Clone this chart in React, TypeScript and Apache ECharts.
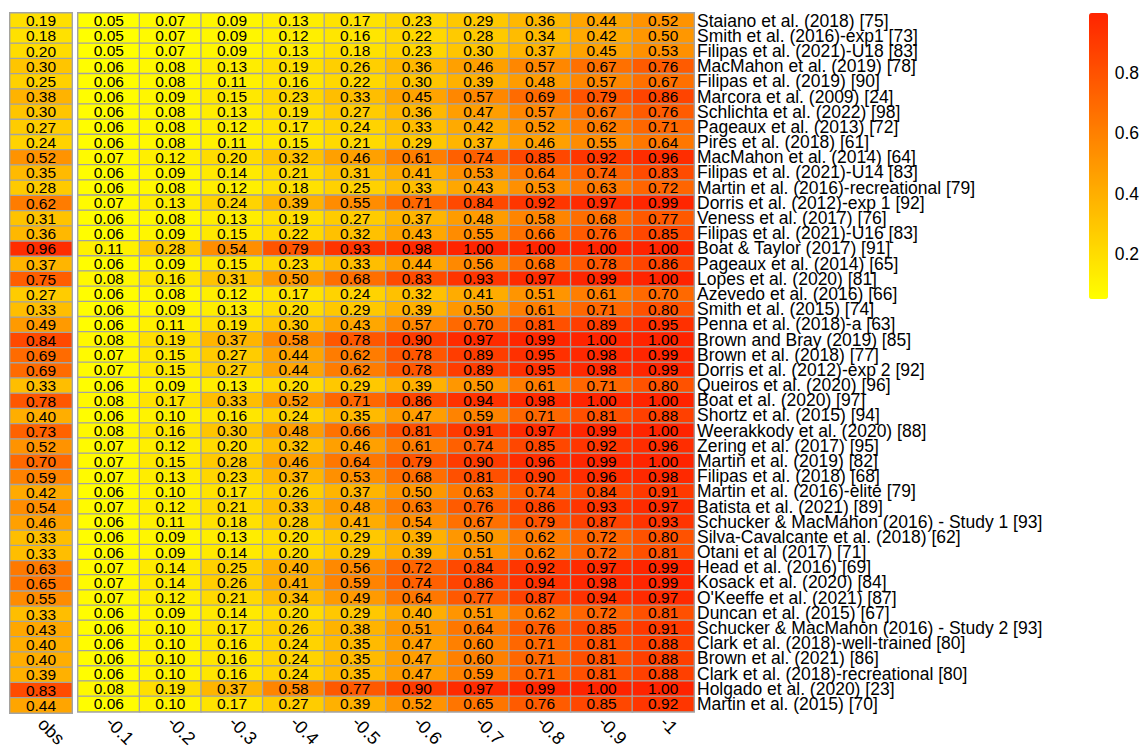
import React, { useEffect, useRef } from 'react';
import * as echarts from 'echarts';

const studies: string[] = [
  'Staiano et al. (2018) [75]',
  'Smith et al. (2016)-exp1 [73]',
  'Filipas et al. (2021)-U18 [83]',
  'MacMahon et al. (2019) [78]',
  'Filipas et al. (2019) [90]',
  'Marcora et al. (2009) [24]',
  'Schlichta et al. (2022) [98]',
  'Pageaux et al. (2013) [72]',
  'Pires et al. (2018) [61]',
  'MacMahon et al. (2014) [64]',
  'Filipas et al. (2021)-U14 [83]',
  'Martin et al. (2016)-recreational [79]',
  'Dorris et al. (2012)-exp 1 [92]',
  'Veness et al. (2017) [76]',
  'Filipas et al. (2021)-U16 [83]',
  'Boat & Taylor (2017) [91]',
  'Pageaux et al. (2014) [65]',
  'Lopes et al. (2020) [81]',
  'Azevedo et al. (2016) [66]',
  'Smith et al. (2015) [74]',
  'Penna et al. (2018)-a [63]',
  'Brown and Bray (2019) [85]',
  'Brown et al. (2018) [77]',
  'Dorris et al. (2012)-exp 2 [92]',
  'Queiros et al. (2020) [96]',
  'Boat et al. (2020) [97]',
  'Shortz et al. (2015) [94]',
  'Weerakkody et al. (2020) [88]',
  'Zering et al. (2017) [95]',
  'Martin et al. (2019) [82]',
  'Filipas et al. (2018) [68]',
  'Martin et al. (2016)-elite [79]',
  'Batista et al. (2021) [89]',
  'Schucker & MacMahon (2016) - Study 1 [93]',
  'Silva-Cavalcante et al. (2018) [62]',
  'Otani et al (2017) [71]',
  'Head et al. (2016) [69]',
  'Kosack et al. (2020) [84]',
  "O'Keeffe et al. (2021) [87]",
  'Duncan et al. (2015) [67]',
  'Schucker & MacMahon (2016) - Study 2 [93]',
  'Clark et al. (2018)-well-trained [80]',
  'Brown et al. (2021) [86]',
  'Clark et al. (2018)-recreational [80]',
  'Holgado et al. (2020) [23]',
  'Martin et al. (2015) [70]',
];

const obsLabel = ['obs'];

const obsValues: number[] = [
  0.19, 0.18, 0.20, 0.30, 0.25, 0.38, 0.30, 0.27, 0.24, 0.52, 0.35, 0.28, 0.62, 0.31, 0.36, 0.96,
  0.37, 0.75, 0.27, 0.33, 0.49, 0.84, 0.69, 0.69, 0.33, 0.78, 0.40, 0.73, 0.52, 0.70, 0.59, 0.42,
  0.54, 0.46, 0.33, 0.33, 0.63, 0.65, 0.55, 0.33, 0.43, 0.40, 0.40, 0.39, 0.83, 0.44,
];

const effectLabels = ['-0.1', '-0.2', '-0.3', '-0.4', '-0.5', '-0.6', '-0.7', '-0.8', '-0.9', '-1'];

const effectValues: number[][] = [
  [0.05, 0.07, 0.09, 0.13, 0.17, 0.23, 0.29, 0.36, 0.44, 0.52],
  [0.05, 0.07, 0.09, 0.12, 0.16, 0.22, 0.28, 0.34, 0.42, 0.50],
  [0.05, 0.07, 0.09, 0.13, 0.18, 0.23, 0.30, 0.37, 0.45, 0.53],
  [0.06, 0.08, 0.13, 0.19, 0.26, 0.36, 0.46, 0.57, 0.67, 0.76],
  [0.06, 0.08, 0.11, 0.16, 0.22, 0.30, 0.39, 0.48, 0.57, 0.67],
  [0.06, 0.09, 0.15, 0.23, 0.33, 0.45, 0.57, 0.69, 0.79, 0.86],
  [0.06, 0.08, 0.13, 0.19, 0.27, 0.36, 0.47, 0.57, 0.67, 0.76],
  [0.06, 0.08, 0.12, 0.17, 0.24, 0.33, 0.42, 0.52, 0.62, 0.71],
  [0.06, 0.08, 0.11, 0.15, 0.21, 0.29, 0.37, 0.46, 0.55, 0.64],
  [0.07, 0.12, 0.20, 0.32, 0.46, 0.61, 0.74, 0.85, 0.92, 0.96],
  [0.06, 0.09, 0.14, 0.21, 0.31, 0.41, 0.53, 0.64, 0.74, 0.83],
  [0.06, 0.08, 0.12, 0.18, 0.25, 0.33, 0.43, 0.53, 0.63, 0.72],
  [0.07, 0.13, 0.24, 0.39, 0.55, 0.71, 0.84, 0.92, 0.97, 0.99],
  [0.06, 0.08, 0.13, 0.19, 0.27, 0.37, 0.48, 0.58, 0.68, 0.77],
  [0.06, 0.09, 0.15, 0.22, 0.32, 0.43, 0.55, 0.66, 0.76, 0.85],
  [0.11, 0.28, 0.54, 0.79, 0.93, 0.98, 1.00, 1.00, 1.00, 1.00],
  [0.06, 0.09, 0.15, 0.23, 0.33, 0.44, 0.56, 0.68, 0.78, 0.86],
  [0.08, 0.16, 0.31, 0.50, 0.68, 0.83, 0.93, 0.97, 0.99, 1.00],
  [0.06, 0.08, 0.12, 0.17, 0.24, 0.32, 0.41, 0.51, 0.61, 0.70],
  [0.06, 0.09, 0.13, 0.20, 0.29, 0.39, 0.50, 0.61, 0.71, 0.80],
  [0.06, 0.11, 0.19, 0.30, 0.43, 0.57, 0.70, 0.81, 0.89, 0.95],
  [0.08, 0.19, 0.37, 0.58, 0.78, 0.90, 0.97, 0.99, 1.00, 1.00],
  [0.07, 0.15, 0.27, 0.44, 0.62, 0.78, 0.89, 0.95, 0.98, 0.99],
  [0.07, 0.15, 0.27, 0.44, 0.62, 0.78, 0.89, 0.95, 0.98, 0.99],
  [0.06, 0.09, 0.13, 0.20, 0.29, 0.39, 0.50, 0.61, 0.71, 0.80],
  [0.08, 0.17, 0.33, 0.52, 0.71, 0.86, 0.94, 0.98, 1.00, 1.00],
  [0.06, 0.10, 0.16, 0.24, 0.35, 0.47, 0.59, 0.71, 0.81, 0.88],
  [0.08, 0.16, 0.30, 0.48, 0.66, 0.81, 0.91, 0.97, 0.99, 1.00],
  [0.07, 0.12, 0.20, 0.32, 0.46, 0.61, 0.74, 0.85, 0.92, 0.96],
  [0.07, 0.15, 0.28, 0.46, 0.64, 0.79, 0.90, 0.96, 0.99, 1.00],
  [0.07, 0.13, 0.23, 0.37, 0.53, 0.68, 0.81, 0.90, 0.96, 0.98],
  [0.06, 0.10, 0.17, 0.26, 0.37, 0.50, 0.63, 0.74, 0.84, 0.91],
  [0.07, 0.12, 0.21, 0.33, 0.48, 0.63, 0.76, 0.86, 0.93, 0.97],
  [0.06, 0.11, 0.18, 0.28, 0.41, 0.54, 0.67, 0.79, 0.87, 0.93],
  [0.06, 0.09, 0.13, 0.20, 0.29, 0.39, 0.50, 0.62, 0.72, 0.80],
  [0.06, 0.09, 0.14, 0.20, 0.29, 0.39, 0.51, 0.62, 0.72, 0.81],
  [0.07, 0.14, 0.25, 0.40, 0.56, 0.72, 0.84, 0.92, 0.97, 0.99],
  [0.07, 0.14, 0.26, 0.41, 0.59, 0.74, 0.86, 0.94, 0.98, 0.99],
  [0.07, 0.12, 0.21, 0.34, 0.49, 0.64, 0.77, 0.87, 0.94, 0.97],
  [0.06, 0.09, 0.14, 0.20, 0.29, 0.40, 0.51, 0.62, 0.72, 0.81],
  [0.06, 0.10, 0.17, 0.26, 0.38, 0.51, 0.64, 0.76, 0.85, 0.91],
  [0.06, 0.10, 0.16, 0.24, 0.35, 0.47, 0.60, 0.71, 0.81, 0.88],
  [0.06, 0.10, 0.16, 0.24, 0.35, 0.47, 0.60, 0.71, 0.81, 0.88],
  [0.06, 0.10, 0.16, 0.24, 0.35, 0.47, 0.59, 0.71, 0.81, 0.88],
  [0.08, 0.19, 0.37, 0.58, 0.77, 0.90, 0.97, 0.99, 1.00, 1.00],
  [0.06, 0.10, 0.17, 0.27, 0.39, 0.52, 0.65, 0.76, 0.85, 0.92],
];

const colorbarTicks = [0.2, 0.4, 0.6, 0.8];
const colorMin = 0.05;
const colorMax = 1.0;

const FONT = '"Liberation Sans", Arial, sans-serif';
const BORDER = '#A3A3A3';

export default function App() {
  const ref = useRef<HTMLDivElement>(null);

  useEffect(() => {
    if (!ref.current) return;
    const chart = echarts.init(ref.current, undefined, { renderer: 'svg' });

    const obsData = obsValues.map((v, i) => [0, i, v]);
    const mainData: number[][] = [];
    effectValues.forEach((row, i) => row.forEach((v, j) => mainData.push([j, i, v])));

    const top = 13;
    const height = 702;

    const cellLabel = {
      show: true,
      color: '#000',
      fontSize: 15.5,
      fontFamily: FONT,
      formatter: (p: any) => Number(p.value[2]).toFixed(2),
    };
    const cellStyle = { borderColor: BORDER, borderWidth: 1.3 };

    const xLabel = {
      rotate: -45,
      fontSize: 18,
      color: '#000',
      fontFamily: FONT,
      margin: 8,
      interval: 0,
    };

    chart.setOption({
      animation: false,
      backgroundColor: '#fff',
      textStyle: { fontFamily: FONT },
      grid: [
        { left: 10, top, width: 62, height, show: true, borderColor: BORDER, borderWidth: 2, backgroundColor: 'transparent' },
        { left: 78, top, width: 616, height, show: true, borderColor: BORDER, borderWidth: 2, backgroundColor: 'transparent' },
        { left: 1089, top: 13, width: 19, height: 286 },
      ],
      xAxis: [
        {
          type: 'category', gridIndex: 0, data: obsLabel, position: 'bottom',
          axisLine: { show: false }, axisTick: { show: false }, splitLine: { show: false },
          axisLabel: xLabel,
        },
        {
          type: 'category', gridIndex: 1, data: effectLabels, position: 'bottom',
          axisLine: { show: false }, axisTick: { show: false }, splitLine: { show: false },
          axisLabel: xLabel,
        },
        { type: 'category', gridIndex: 2, data: [''], show: false },
      ],
      yAxis: [
        {
          type: 'category', gridIndex: 0, data: studies, inverse: true,
          axisLine: { show: false }, axisTick: { show: false }, axisLabel: { show: false },
        },
        {
          type: 'category', gridIndex: 1, data: studies, inverse: true, position: 'right',
          axisLine: { show: false }, axisTick: { show: false }, splitLine: { show: false },
          axisLabel: { interval: 0, fontSize: 17.5, lineHeight: 15, color: '#000', fontFamily: FONT, margin: 3 },
        },
        {
          type: 'value', gridIndex: 2, min: colorMin, max: colorMax, interval: 0.05, position: 'right',
          axisLine: { show: false }, axisTick: { show: false }, splitLine: { show: false },
          axisLabel: {
            fontSize: 17.5, color: '#000', fontFamily: FONT, margin: 8, showMinLabel: true, showMaxLabel: true,
            formatter: (v: number) => (colorbarTicks.some((t) => Math.abs(t - v) < 1e-6) ? v.toFixed(1) : ''),
          },
        },
      ],
      visualMap: {
        type: 'continuous',
        min: colorMin,
        max: colorMax,
        seriesIndex: [0, 1],
        calculable: false,
        left: 1089,
        top: 13,
        itemWidth: 19,
        itemHeight: 286,
        padding: 0,
        text: ['', ''],
        showLabel: false,
        inRange: { color: ['#FFFF00', '#FF2400'] },
      },
      series: [
        {
          type: 'heatmap', xAxisIndex: 0, yAxisIndex: 0, data: obsData,
          label: cellLabel, itemStyle: cellStyle, emphasis: { disabled: true },
        },
        {
          type: 'heatmap', xAxisIndex: 1, yAxisIndex: 1, data: mainData,
          label: cellLabel, itemStyle: cellStyle, emphasis: { disabled: true },
        },
      ],
    });

    return () => chart.dispose();
  }, []);

  return <div ref={ref} style={{ position: 'fixed', left: 0, top: 0, width: 1142, height: 750 }} />;
}
